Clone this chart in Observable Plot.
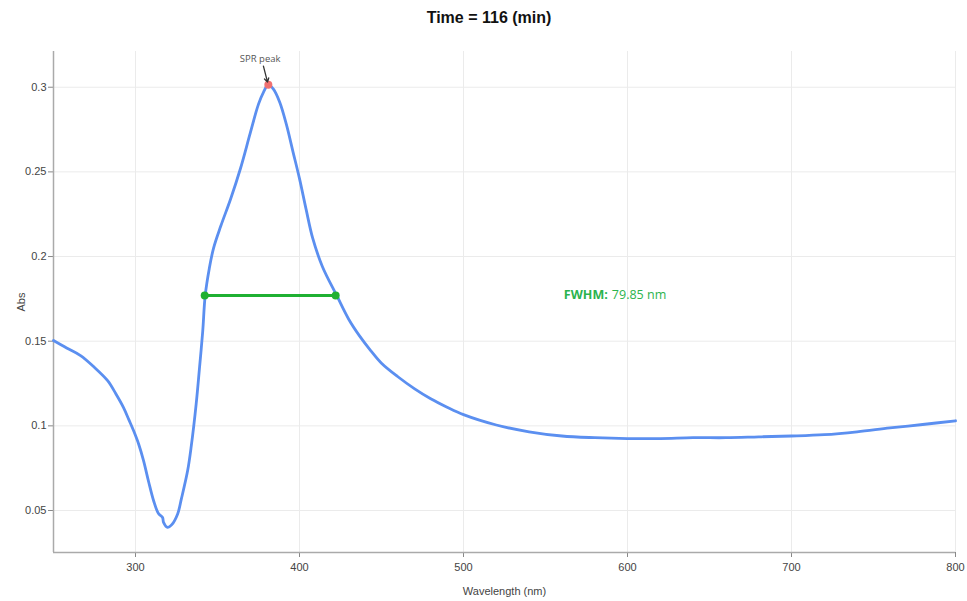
<!DOCTYPE html>
<html>
<head>
<meta charset="utf-8">
<script src="https://cdn.jsdelivr.net/npm/d3@7"></script>
<script src="https://cdn.jsdelivr.net/npm/@observablehq/plot@0.6"></script>
<style>
  body { margin: 0; background: #fff; }
  #title { height: 36px; font: bold 16px "Liberation Sans", Arial, sans-serif; line-height: 36px;
           text-align: center; padding-left: 11px; box-sizing: border-box; color: #111; }
</style>
</head>
<body>
<div id="title">Time = 116 (min)</div>
<div id="chart"></div>
<script>
// Spectrum (wavelength in nm, absorbance)
const wavelength = [250,258,266.5,275,283,288,292.7,296,298.8,302,304.9,308,311,314,316.5,317.1,319.6,322,325.7,328,331.8,334,337,339,341,342.5,345,347.6,352,358,364,370,375,378,381,384,388,392,396,400,404,408,414,422.7,430,436.7,443.4,450,460,470,480,490,500,520,540,560,580,600,620,640,660,680,700,720,740,760,780,800];
const absorbance = [0.1504,0.146,0.1415,0.1345,0.1267,0.119,0.1108,0.1035,0.0972,0.089,0.0795,0.067,0.0559,0.0482,0.0459,0.043,0.0400,0.0415,0.048,0.057,0.0736,0.088,0.113,0.134,0.156,0.177,0.193,0.205,0.218,0.234,0.252,0.273,0.290,0.297,0.3015,0.299,0.291,0.278,0.262,0.246,0.228,0.211,0.194,0.177,0.163,0.153,0.1445,0.137,0.129,0.122,0.116,0.111,0.1066,0.1005,0.0965,0.094,0.093,0.0925,0.0925,0.093,0.093,0.0935,0.094,0.0948,0.0965,0.0988,0.1008,0.103,0.1045];

const peakWavelength = [381];
const peakAbs = [0.3015];
const fwhmWavelength = [342.2, 422.05];
const fwhmAbs = [0.177, 0.177];
const fwhmValue = "79.85 nm";

const xTicks = [300, 400, 500, 600, 700, 800];
const yTicks = [0.05, 0.1, 0.15, 0.2, 0.25, 0.3];

const spectrum = wavelength.map((w, i) => ({w, a: absorbance[i]}));
const fwhm = fwhmWavelength.map((w, i) => ({w, a: fwhmAbs[i]}));
const peak = peakWavelength.map((w, i) => ({w, a: peakAbs[i]}));

const xDomain = [250, 800];
const yDomain = [0.0252, 0.3211];

const chart = Plot.plot({
  width: 967,
  height: 565,
  marginTop: 15,
  marginBottom: 49,
  marginLeft: 53,
  marginRight: 12,
  style: {fontFamily: "'Liberation Sans', Arial, sans-serif", fontSize: "12px", color: "#444", background: "#fff"},
  x: {domain: xDomain},
  y: {domain: yDomain},
  marks: [
    Plot.gridX(xTicks, {stroke: "#ebebeb", strokeOpacity: 1}),
    Plot.gridY(yTicks, {stroke: "#ebebeb", strokeOpacity: 1}),
    Plot.axisX(xTicks, {tickSize: 5, tickPadding: 6, stroke: "#888", fill: "#444", fontSize: 11,
      label: "Wavelength (nm)", labelAnchor: "center", labelOffset: 42, labelArrow: "none"}),
    Plot.axisY(yTicks, {tickSize: 5, tickPadding: 2, stroke: "#888", fill: "#444", fontSize: 11,
      tickFormat: d => String(+d.toFixed(2)),
      label: "Abs", labelAnchor: "center", labelOffset: 36, labelArrow: "none"}),
    Plot.ruleX([xDomain[0]], {stroke: "#aaa", strokeWidth: 1.5}),
    Plot.ruleY([yDomain[0]], {stroke: "#aaa", strokeWidth: 1.5}),
    Plot.line(spectrum, {x: "w", y: "a", stroke: "#5b8ff0", strokeWidth: 2.8, curve: "catmull-rom"}),
    Plot.line(fwhm, {x: "w", y: "a", stroke: "#1fb032", strokeWidth: 3.2}),
    Plot.dot(fwhm, {x: "w", y: "a", r: 4, fill: "#1fb032"}),
    Plot.dot(peak, {x: "w", y: "a", r: 4, fill: "#f07070"}),
    Plot.arrow(peak, {x1: d => d.w - 3, y1: d => d.a + 0.0110, x2: d => d.w - 0.5, y2: d => d.a + 0.0015,
      stroke: "#333", strokeWidth: 1.3, headLength: 5}),
    Plot.text(peak, {x: d => d.w - 5, y: d => d.a + 0.0150, text: () => "SPR peak", fontSize: 9.5,
      fill: "#555", fontFamily: "'Open Sans', sans-serif"}),
    Plot.text(fwhm.slice(0, 1), {x: () => 561.2, y: "a", text: () => "FWHM:", fontSize: 12.5, fontWeight: "bold",
      fill: "#2bb34d", textAnchor: "start", fontFamily: "'Open Sans', sans-serif"}),
    Plot.text(fwhm.slice(0, 1), {x: () => 561.2, y: "a", dx: 48, text: () => fwhmValue, fontSize: 12.5,
      fill: "#2bb34d", textAnchor: "start", fontFamily: "'Open Sans', sans-serif"})
  ]
});
document.getElementById("chart").appendChild(chart);
</script>
</body>
</html>
